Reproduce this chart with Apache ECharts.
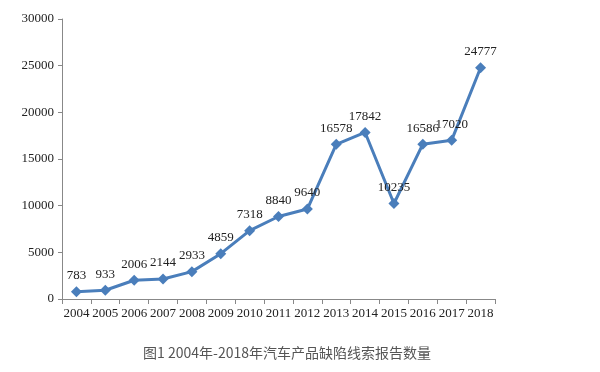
<!DOCTYPE html>
<html><head><meta charset="utf-8">
<script src="https://cdn.jsdelivr.net/npm/echarts@6/dist/echarts.min.js"></script>
<style>html,body{margin:0;padding:0;background:#fff}#c{width:600px;height:372px}</style>
</head><body><div id="c"></div>
<script>
const years = ['2004','2005','2006','2007','2008','2009','2010','2011','2012','2013','2014','2015','2016','2017','2018'];
const reports = [783,933,2006,2144,2933,4859,7318,8840,9640,16578,17842,10235,16586,17020,24777];
const yTicks = [0,5000,10000,15000,20000,25000,30000];
const caption = '图1 2004年-2018年汽车产品缺陷线索报告数量';

const chart = echarts.init(document.getElementById('c'), null, {renderer:'canvas'});
const serif = '"Liberation Serif","Times New Roman",serif';
chart.setOption({
  animation:false,
  backgroundColor:'#fff',
  title:{text:caption,left:282,textAlign:'center',top:341,
    textStyle:{fontFamily:'"Noto Sans CJK SC",serif',fontSize:14,fontWeight:'normal',color:'#555'}},
  grid:{left:62,right:105,top:19,bottom:73},
  xAxis:{type:'category',data:years,boundaryGap:true,
    axisLine:{lineStyle:{color:'#888',width:1}},
    axisTick:{show:true,alignWithLabel:false,length:5,lineStyle:{color:'#888'}},
    axisLabel:{fontFamily:serif,fontSize:13,color:'#222',margin:8,interval:0}},
  yAxis:{type:'value',min:yTicks[0],max:yTicks[yTicks.length-1],interval:5000,
    axisLine:{show:true,lineStyle:{color:'#888',width:1}},
    axisTick:{show:true,length:4,lineStyle:{color:'#888'}},
    splitLine:{show:false},
    axisLabel:{fontFamily:serif,fontSize:13,color:'#222',margin:8,formatter:v=>String(v)}},
  series:[{type:'line',data:reports,symbol:'diamond',symbolSize:11,
    lineStyle:{color:'#4a7ebb',width:3},itemStyle:{color:'#4a7ebb'},
    label:{show:true,position:'top',distance:4,fontFamily:serif,fontSize:13,color:'#222'}}]
});
</script></body></html>
